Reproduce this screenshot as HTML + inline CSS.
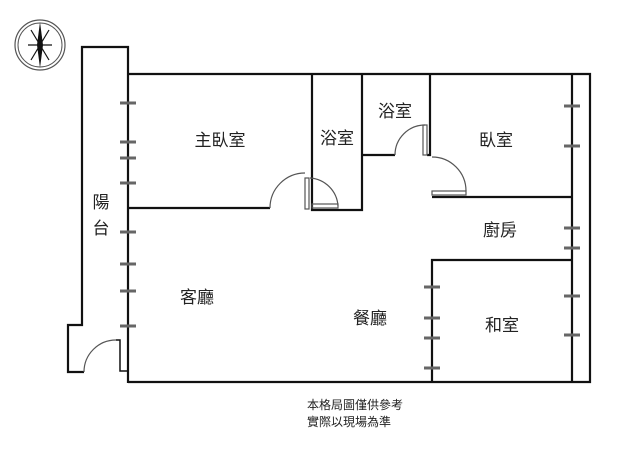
<!DOCTYPE html>
<html><head><meta charset="utf-8"><style>
html,body{margin:0;padding:0;background:#fff;width:640px;height:453px;overflow:hidden}
text{font-family:"Liberation Sans","Noto Sans CJK TC",sans-serif;fill:#222}
</style></head><body>
<svg width="640" height="453" viewBox="0 0 640 453" xmlns="http://www.w3.org/2000/svg">
<g fill="none" stroke="#111" stroke-width="2.2">
<circle cx="40" cy="45" r="25" stroke="#555" stroke-width="1.2"/>
<circle cx="40" cy="45" r="22" stroke="#555" stroke-width="1"/>
<polyline points="128,383 128,47 82,47 82,325 68,325 68,372 84,372"/>
<polyline points="116,340 120,340 120,371 128,371" stroke-width="1.5"/>
<polyline points="128,74 590,74 590,382 128,382"/>
<line x1="572" y1="74" x2="572" y2="382"/>
<line x1="128" y1="208" x2="270" y2="208"/>
<polyline points="312,74 312,210 362,210 362,74"/>
<polyline points="362,155 395,155"/>
<polyline points="427,155 430,155 430,74"/>
<line x1="432" y1="197" x2="572" y2="197"/>
<polyline points="432,382 432,260 572,260"/>
</g>
<g fill="none" stroke="#555" stroke-width="1.2">
<path d="M84,372 A32,32 0 0 1 116,340"/>
<path d="M270,208 A35,35 0 0 1 305,173"/>
<rect x="305" y="178" width="4" height="31"/>
<path d="M310,178 A30,30 0 0 1 338,206"/>
<rect x="312" y="204" width="26" height="4"/>
<path d="M395,155 A30,30 0 0 1 425,125"/>
<rect x="423" y="125" width="4" height="30"/>
<path d="M432,157 A34,34 0 0 1 466,191"/>
<rect x="432" y="191" width="34" height="4"/>
</g>
<g stroke="#111" stroke-width="1.2">
<line x1="31" y1="30" x2="49" y2="60"/><line x1="49" y1="30" x2="31" y2="60"/>
<line x1="28" y1="45" x2="52" y2="45"/>
</g>
<polygon points="40,22 43,45 40,68 37,45" fill="#111"/>
<g stroke="#666" stroke-width="3">
<path d="M120,103h16M120,142h16M120,158h16M120,183h16M120,232h16M120,264h16M120,291h16M120,326h16"/>
<path d="M424,287h16M424,318h16M424,338h16M424,368h16"/>
<path d="M564,106h16M564,146h16M564,228h16M564,248h16M564,296h16M564,335h16"/>
</g>
<g font-size="17" text-anchor="middle">
<text x="220" y="146">主臥室</text>
<text x="337" y="144">浴室</text>
<text x="395" y="117">浴室</text>
<text x="496" y="146">臥室</text>
<text x="500" y="236">廚房</text>
<text x="197" y="303">客廳</text>
<text x="370" y="324">餐廳</text>
<text x="502" y="331">和室</text>
<text x="101" y="208">陽</text>
<text x="101" y="234">台</text>
</g>
<g font-size="12">
<text x="307" y="409">本格局圖僅供參考</text>
<text x="307" y="426">實際以現場為準</text>
</g>
</svg>
</body></html>
